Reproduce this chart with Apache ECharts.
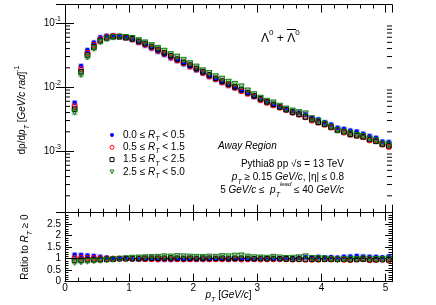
<!DOCTYPE html>
<html><head><meta charset="utf-8">
<script src="https://cdn.jsdelivr.net/npm/echarts@6/dist/echarts.min.js"></script>
<style>html,body{margin:0;padding:0;background:#fff}#c{width:436px;height:305px}</style>
</head><body><div id="c"></div>
<script>
// ---------------- data ----------------
const pT = [0.15,0.25,0.35,0.45,0.55,0.65,0.75,0.85,0.95,1.05,1.15,1.25,1.35,1.45,1.55,1.65,1.75,1.85,1.95,2.05,2.15,2.25,2.35,2.45,2.55,2.65,2.75,2.85,2.95,3.05,3.15,3.25,3.35,3.45,3.55,3.65,3.75,3.85,3.95,4.05,4.15,4.25,4.35,4.45,4.55,4.65,4.75,4.85,4.95,5.05];
const seriesNames = ['0.0 ≤ R_T < 0.5','0.5 ≤ R_T < 1.5','1.5 ≤ R_T < 2.5','2.5 ≤ R_T < 5.0'];
// dρ/dpT  per R_T class
const yieldRT0 = [0.00570,0.0214,0.0381,0.0498,0.0602,0.0634,0.0639,0.0615,0.0587,0.0545,0.0493,0.0447,0.0401,0.0356,0.0316,0.0282,0.0256,0.0227,0.0206,0.0183,0.0164,0.0144,0.0131,0.0118,0.01056,0.00963,0.00871,0.00795,0.00707,0.00636,0.00587,0.00528,0.00487,0.00453,0.00422,0.00398,0.00373,0.00332,0.00314,0.00283,0.00260,0.00232,0.00223,0.00210,0.00202,0.00187,0.00172,0.00161,0.00141,0.00139];
const yieldRT1 = [0.00506,0.0192,0.0344,0.0458,0.0563,0.0616,0.0632,0.0615,0.0593,0.0556,0.0504,0.0461,0.0414,0.0368,0.0329,0.0291,0.0261,0.0237,0.0210,0.0189,0.0166,0.0147,0.0133,0.0118,0.01067,0.00973,0.00862,0.00787,0.00714,0.00623,0.00569,0.00517,0.00477,0.00436,0.00397,0.00372,0.00338,0.00300,0.00279,0.00259,0.00233,0.00214,0.00195,0.00180,0.00173,0.00165,0.00147,0.00143,0.00126,0.00116];
const yieldRT2 = [0.00453,0.0173,0.0317,0.0423,0.0530,0.0586,0.0613,0.0615,0.0593,0.0568,0.0519,0.0479,0.0430,0.0387,0.0343,0.0309,0.0274,0.0244,0.0221,0.0195,0.0174,0.0155,0.0137,0.0124,0.0111,0.01013,0.00916,0.00819,0.00729,0.00655,0.00587,0.00538,0.00487,0.00445,0.00406,0.00375,0.00341,0.00310,0.00282,0.00262,0.00238,0.00214,0.00201,0.00183,0.00175,0.00167,0.00152,0.00142,0.00129,0.00121];
const yieldRT3 = [0.00404,0.0157,0.0294,0.0401,0.0508,0.0568,0.0601,0.0609,0.0599,0.0579,0.0535,0.0494,0.0447,0.0406,0.0366,0.0324,0.0296,0.0264,0.0234,0.0207,0.0181,0.0164,0.0146,0.0134,0.0120,0.01112,0.01015,0.00876,0.00765,0.00675,0.00605,0.00570,0.00506,0.00458,0.00426,0.00402,0.00384,0.00322,0.00294,0.00267,0.00238,0.00210,0.00199,0.00189,0.00176,0.00170,0.00156,0.00146,0.00129,0.00126];
// ratio to R_T >= 0
const ratioRT0 = [1.17,1.16,1.14,1.12,1.09,1.05,1.02,1.00,0.99,0.97,0.96,0.95,0.95,0.94,0.94,0.94,0.95,0.94,0.95,0.95,0.96,0.95,0.96,0.97,0.96,0.97,0.97,0.98,0.97,0.98,1.00,0.99,1.00,1.01,1.02,1.04,1.06,1.05,1.08,1.06,1.07,1.05,1.09,1.10,1.12,1.10,1.09,1.08,1.06,1.10];
const ratioRT1 = [1.04,1.04,1.03,1.03,1.02,1.02,1.01,1.00,1.00,0.99,0.98,0.98,0.98,0.97,0.98,0.97,0.97,0.98,0.97,0.98,0.97,0.97,0.98,0.97,0.97,0.98,0.96,0.97,0.98,0.96,0.97,0.97,0.98,0.97,0.96,0.97,0.96,0.95,0.96,0.97,0.96,0.97,0.95,0.94,0.96,0.97,0.93,0.96,0.95,0.92];
const ratioRT2 = [0.93,0.94,0.95,0.95,0.96,0.97,0.98,1.00,1.00,1.01,1.01,1.02,1.02,1.02,1.02,1.03,1.02,1.01,1.02,1.01,1.02,1.02,1.01,1.02,1.01,1.02,1.02,1.01,1.00,1.01,1.00,1.01,1.00,0.99,0.98,0.98,0.97,0.98,0.97,0.98,0.98,0.97,0.98,0.96,0.97,0.98,0.96,0.95,0.97,0.96];
const ratioRT3 = [0.83,0.85,0.88,0.90,0.92,0.94,0.96,0.99,1.01,1.03,1.04,1.05,1.06,1.07,1.09,1.08,1.10,1.09,1.08,1.07,1.06,1.08,1.07,1.10,1.09,1.12,1.13,1.08,1.05,1.04,1.03,1.07,1.04,1.02,1.03,1.05,1.09,1.02,1.01,1.00,0.98,0.95,0.97,0.99,0.98,1.00,0.99,0.98,0.97,1.00];
// tick labels
const xTickLabels = ['0','1','2','3','4','5'];
const ratioTickLabels = ['0','0.5','1','1.5','2','2.5'];
const logMinorTicks = [2e-4,3e-4,4e-4,5e-4,6e-4,7e-4,8e-4,9e-4,2e-3,3e-3,4e-3,5e-3,6e-3,7e-3,8e-3,9e-3,2e-2,3e-2,4e-2,5e-2,6e-2,7e-2,8e-2,9e-2];

// ---------------- style / layout ----------------
const FONT = '"Liberation Sans", Arial, sans-serif';
const X_MIN = 0, X_MAX = 5.1;
const Y_MIN = 1.09e-4, Y_MAX = 0.195;
const SYS_REL = 0.1, BOX_HALF = 0.045;
const colors = ['#0000ff','#ff0000','#000000','#117a11'];
const boxFill = ['rgba(40,40,255,0.30)','rgba(255,40,40,0.28)','rgba(0,0,0,0.25)','rgba(0,120,0,0.35)'];
const symbols = ['circle','circle','rect','path://M0,0 L10,0 L5,9 Z'];
const symSizes = [4.5,5,4.5,5.5];
const hollow = [false,true,true,true];
const yields = [yieldRT0,yieldRT1,yieldRT2,yieldRT3];
const ratios = [ratioRT0,ratioRT1,ratioRT2,ratioRT3];

const chart = echarts.init(document.getElementById('c'));

function xAx(grid, pos, showLabel){
  return {type:'value', gridIndex:grid, position:pos, min:X_MIN, max:X_MAX, interval:1,
    axisLine:{show:true, onZero:false, lineStyle:{color:'#000', width:1}},
    axisTick:{show:true, inside:true, length:8, lineStyle:{color:'#000', width:1}},
    minorTick:{show:true, splitNumber:5, length:4, lineStyle:{color:'#000', width:1}},
    splitLine:{show:false}, minorSplitLine:{show:false},
    axisLabel:{show:showLabel, margin:2, fontSize:10, fontFamily:FONT, color:'#000',
      formatter: v => { const s = String(Math.round(v*1000)/1000); return xTickLabels.includes(s) ? s : ''; }}};
}
function logAx(pos, showLabel){
  return {type:'log', logBase:10, gridIndex:0, position:pos, min:Y_MIN, max:Y_MAX,
    axisLine:{show:true, lineStyle:{color:'#000', width:1}},
    axisTick:{show:true, inside:true, length:9, lineStyle:{color:'#000', width:1}},
    splitLine:{show:false},
    axisLabel:{show:showLabel, margin:4, fontSize:10, fontFamily:FONT, color:'#000',
      formatter: v => { const e = Math.log10(v); if (Math.abs(e-Math.round(e))>0.01) return ''; return '{b|10}{s|' + Math.round(e) + '}'; },
      rich:{b:{fontSize:10, fontFamily:FONT, color:'#000', lineHeight:16},
            s:{fontSize:7, fontFamily:FONT, color:'#000', verticalAlign:'top'}}}};
}
function ratioAx(pos, showLabel){
  return {type:'value', gridIndex:1, position:pos, min:0, max:3, interval:0.5,
    axisLine:{show:true, onZero:false, lineStyle:{color:'#000', width:1}},
    axisTick:{show:true, inside:true, length:7, lineStyle:{color:'#000', width:1}},
    minorTick:{show:true, splitNumber:5, length:3.5, lineStyle:{color:'#000', width:1}},
    splitLine:{show:false}, minorSplitLine:{show:false},
    axisLabel:{show:showLabel, margin:4, fontSize:10, fontFamily:FONT, color:'#000',
      formatter: v => { const s = String(Math.round(v*10)/10); return ratioTickLabels.includes(s) ? s : ''; }}};
}

function boxSeries(i, xi, yi, vals){
  return {type:'custom', name:seriesNames[i]+' sys', xAxisIndex:xi, yAxisIndex:yi, clip:true, z:2, silent:true,
    data: pT.map((x,j)=>[x, vals[j]]),
    renderItem: (params, api) => {
      const x = api.value(0), y = api.value(1);
      const lo = api.coord([x - BOX_HALF, y*(1-SYS_REL)]);
      const hi = api.coord([x + BOX_HALF, y*(1+SYS_REL)]);
      return {type:'rect', shape:{x:lo[0], y:hi[1], width:hi[0]-lo[0], height:lo[1]-hi[1]}, style:{fill:boxFill[i]}};
    }};
}
function markSeries(i, xi, yi, vals){
  return {type:'scatter', name:seriesNames[i], xAxisIndex:xi, yAxisIndex:yi, z:5,
    data: pT.map((x,j)=>[x, vals[j]]),
    symbol:symbols[i], symbolSize:symSizes[i],
    itemStyle: hollow[i] ? {color:'rgba(0,0,0,0)', borderColor:colors[i], borderWidth:1, opacity:1}
                         : {color:colors[i], opacity:1}};
}

const series = [];
for (let i=0;i<4;i++) series.push(boxSeries(i,0,0,yields[i]));
for (let i=0;i<4;i++) series.push(boxSeries(i,2,2,ratios[i]));
for (let i=0;i<4;i++) series.push(markSeries(i,0,0,yields[i]));
for (let i=0;i<4;i++) series.push(markSeries(i,2,2,ratios[i]));
series[series.length-4].markLine = {silent:true, symbol:'none', label:{show:false}, z:4,
  lineStyle:{color:'#000', type:'solid', width:1}, data:[{yAxis:1}]};
// log minor ticks (left and right)
series.push({type:'custom', name:'minor', xAxisIndex:0, yAxisIndex:0, clip:false, silent:true, z:6,
  data: logMinorTicks.map(v=>[X_MIN, v]),
  renderItem: (params, api) => {
    const v = api.value(1);
    const l = api.coord([X_MIN, v]), r = api.coord([X_MAX, v]);
    return {type:'group', children:[
      {type:'line', shape:{x1:l[0], y1:l[1], x2:l[0]+5, y2:l[1]}, style:{stroke:'#000', lineWidth:1}},
      {type:'line', shape:{x1:r[0]-5, y1:r[1], x2:r[0], y2:r[1]}, style:{stroke:'#000', lineWidth:1}}]};
  }});

const legendRich = {n:{fontSize:10, fontFamily:FONT, color:'#000', lineHeight:15},
                    i:{fontSize:10, fontStyle:'italic', fontFamily:FONT, color:'#000', lineHeight:15},
                    s:{fontSize:7, fontStyle:'italic', fontFamily:FONT, color:'#000', verticalAlign:'bottom'}};

const txt = (x, y, rich, str, extra) => Object.assign({type:'text', x, y, silent:true,
  style:Object.assign({text:str, fontSize:10, fontFamily:FONT, fill:'#000', lineHeight:17, rich}, extra||{})});

const richStd = {
  i:{fontSize:10, fontStyle:'italic', fontFamily:FONT, color:'#000', lineHeight:17},
  s:{fontSize:7, fontStyle:'italic', fontFamily:FONT, color:'#000', verticalAlign:'bottom'},
  u:{fontSize:7, fontFamily:FONT, color:'#000', verticalAlign:'top'},
  ul:{fontSize:6, fontStyle:'italic', fontFamily:FONT, color:'#000', verticalAlign:'top'},
  L:{fontSize:12, fontFamily:FONT, color:'#000', lineHeight:20},
  L0:{fontSize:8, fontFamily:FONT, color:'#000', verticalAlign:'top'}
};

chart.setOption({
  animation:false,
  backgroundColor:'#fff',
  grid:[{left:65, right:44, top:4.5, height:208.2, show:false},
        {left:65, right:44, top:212.7, height:69, show:false}],
  xAxis:[xAx(0,'bottom',false), xAx(0,'top',false), xAx(1,'bottom',true), xAx(1,'top',false)],
  yAxis:[logAx('left',true), logAx('right',false), ratioAx('left',true), ratioAx('right',false)],
  legend:{data:seriesNames, orient:'vertical', left:104.5, top:122.5, itemWidth:4, itemHeight:4, itemGap:-2.7,
    selectedMode:false, itemStyle:{borderWidth:1},
    textStyle:{fontSize:10, fontFamily:FONT, color:'#000', lineHeight:15, padding:[0,0,0,4], rich:legendRich},
    formatter: n => '{n|' + n.replace('R_T', '}{i|R}{s|T}{n|') + '}'},
  series,
  graphic:[
    txt(261, 39, richStd, '{L|Λ}{L0|0}{L| + }{L|Λ}{L0|0}', {verticalAlign:'middle'}),
    {type:'line', silent:true, shape:{x1:287, y1:29.5, x2:296, y2:29.5}, style:{stroke:'#000', lineWidth:1}},
    txt(218, 146, richStd, 'Away Region', {fontStyle:'italic', verticalAlign:'middle'}),
    txt(344, 164.3, richStd, 'Pythia8 pp √s = 13 TeV', {align:'right', verticalAlign:'middle'}),
    txt(344, 177, richStd, '{i|p}{s|T} ≥ 0.15 {i|GeV/c}, |η| ≤ 0.8', {align:'right', verticalAlign:'middle'}),
    txt(344, 190, richStd, '5 {i|GeV/c} ≤  {i|p}{s|T}{ul|lead} ≤ 40 {i|GeV/c}', {align:'right', verticalAlign:'middle'}),
    txt(228.5, 295, richStd, '{i|p}{s|T} [{i|GeV/c}]', {align:'center', verticalAlign:'middle'}),
    Object.assign(txt(22, 110, richStd, 'dρ/d{i|p}{s|T} [{i|GeV/c rad}]{u|-1}', {align:'center', verticalAlign:'middle'}), {rotation:Math.PI/2}),
    Object.assign(txt(25, 247, richStd, 'Ratio to {i|R}{s|T} ≥ 0', {align:'center', verticalAlign:'middle'}), {rotation:Math.PI/2})
  ]
});
</script>
</body></html>
